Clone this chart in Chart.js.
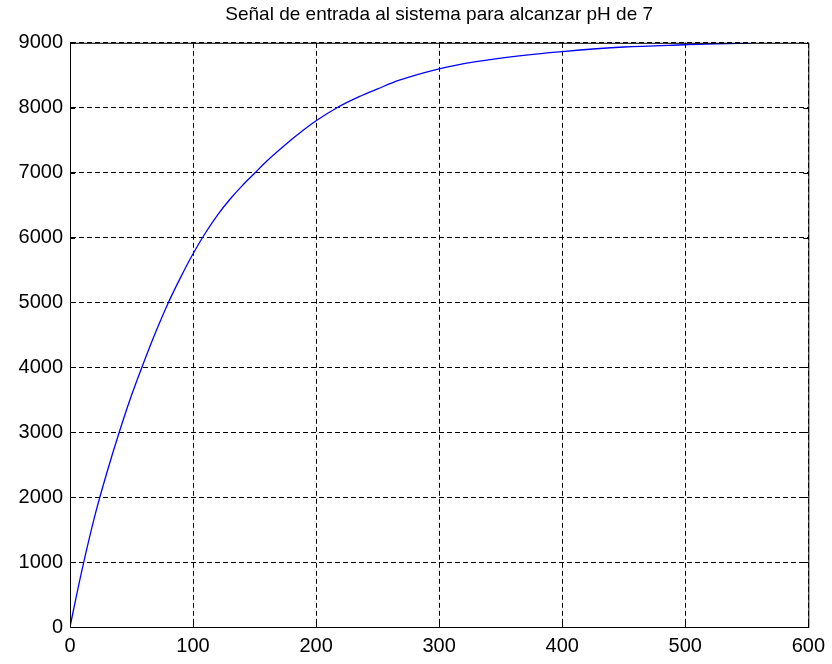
<!DOCTYPE html>
<html>
<head>
<meta charset="utf-8">
<script src="https://cdn.jsdelivr.net/npm/chart.js@4/dist/chart.umd.min.js"></script>
<style>
  html, body { margin: 0; padding: 0; background: #fff; }
  #wrap { width: 832px; height: 664px; }
</style>
</head>
<body>
<div id="wrap"><canvas id="chart" width="832" height="664"></canvas></div>
<script>
// valores
const tiempo = [0, 5, 10, 20, 30, 40, 50, 60, 70, 80, 90, 100, 110, 120, 130, 140, 150, 160, 175, 190, 200, 217, 235, 250, 267, 300, 330, 365, 400, 450, 500, 525, 552];
const senal  = [0, 460, 900, 1700, 2380, 3000, 3570, 4080, 4560, 5000, 5390, 5750, 6070, 6350, 6590, 6800, 6990, 7180, 7430, 7660, 7800, 8000, 8170, 8290, 8420, 8600, 8710, 8800, 8865, 8935, 8970, 8985, 8995];

const titulo = 'Señal de entrada al sistema para alcanzar pH de 7';
const xMin = 0, xMax = 600, xPaso = 100;
const yMin = 0, yMax = 9000, yPaso = 1000;

const puntos = tiempo.map((t, i) => ({ x: t, y: senal[i] }));

// marco y marcas hacia dentro, estilo MATLAB
const marco = {
  id: 'marco',
  afterDraw(chart) {
    const { ctx, chartArea: a, scales } = chart;
    ctx.save();
    ctx.strokeStyle = '#000';
    ctx.lineWidth = 1;
    ctx.setLineDash([]);
    ctx.strokeRect(a.left + 0.5, a.top + 0.5, a.right - a.left, a.bottom - a.top);
    const largo = 5;
    ctx.beginPath();
    scales.x.ticks.forEach(t => {
      const px = Math.round(scales.x.getPixelForValue(t.value)) + 0.5;
      ctx.moveTo(px, a.bottom); ctx.lineTo(px, a.bottom - largo);
      ctx.moveTo(px, a.top); ctx.lineTo(px, a.top + largo);
    });
    scales.y.ticks.forEach(t => {
      const py = Math.round(scales.y.getPixelForValue(t.value)) + 0.5;
      ctx.moveTo(a.left, py); ctx.lineTo(a.left + largo, py);
      ctx.moveTo(a.right, py); ctx.lineTo(a.right - largo, py);
    });
    ctx.stroke();
    ctx.restore();
  }
};

const fondo = {
  id: 'fondo',
  beforeDraw(chart) {
    const ctx = chart.ctx;
    ctx.save();
    ctx.fillStyle = '#fff';
    ctx.fillRect(0, 0, chart.width, chart.height);
    ctx.restore();
  }
};

const familia = '"Liberation Sans", Arial, sans-serif';
const fuente = { family: familia, size: 20 };

new Chart(document.getElementById('chart').getContext('2d'), {
  type: 'scatter',
  data: {
    datasets: [{
      label: 'u',
      data: puntos,
      showLine: true,
      borderColor: '#0000ff',
      borderWidth: 1.3,
      pointRadius: 0,
      fill: false,
      cubicInterpolationMode: 'monotone'
    }]
  },
  options: {
    responsive: false,
    animation: false,
    layout: { padding: { left: 0, right: 21, top: 0, bottom: 0 } },
    plugins: {
      legend: { display: false },
      tooltip: { enabled: false },
      title: {
        display: true,
        fullSize: false,
        text: titulo,
        color: '#000',
        font: { family: familia, size: 19, weight: 'normal' },
        padding: { top: 3, bottom: 17 }
      }
    },
    scales: {
      x: {
        type: 'linear',
        min: xMin, max: xMax,
        afterFit(s) { s.height = 37; },
        border: { display: true, color: '#000', dash: [5, 3] },
        grid: { color: '#000', lineWidth: 1, drawTicks: false },
        ticks: { stepSize: xPaso, color: '#000', padding: 7, maxRotation: 0, font: fuente,
                 callback: v => String(v) }
      },
      y: {
        type: 'linear',
        min: yMin, max: yMax,
        afterFit(s) { s.width = 70; },
        border: { display: true, color: '#000', dash: [5, 3] },
        grid: { color: '#000', lineWidth: 1, drawTicks: false },
        ticks: { stepSize: yPaso, color: '#000', padding: 7, font: fuente,
                 callback: v => String(v) }
      }
    }
  },
  plugins: [fondo, marco]
});
</script>
</body>
</html>
